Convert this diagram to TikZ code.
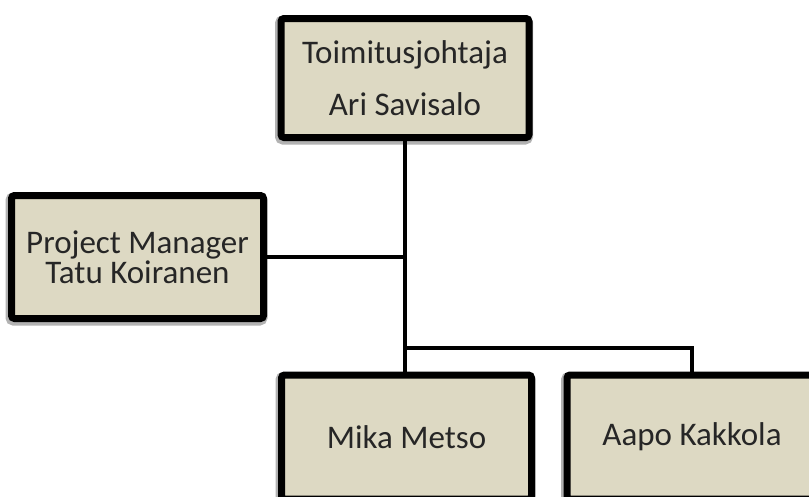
\documentclass[tikz,border=0pt]{standalone}
\usepackage{fontspec}
\setmainfont{Carlito}
\usepackage{tikz}
\usetikzlibrary{positioning,shadows}
\definecolor{boxtan}{HTML}{DDD9C3}
\tikzset{
  orgbox/.style={draw=black,fill=boxtan,line width=7pt,rounded corners=3pt,
    minimum width=250pt,minimum height=120pt,align=center,text=black!85,
    font=\fontsize{33}{30}\selectfont,
    general shadow={draw=black!30,fill=black!30,line width=10pt,shadow xshift=-1pt,shadow yshift=-2pt}},
  link/.style={line width=4.5pt,line join=miter},
}

\begin{document}
\begin{tikzpicture}[x=1pt,y=-1pt]
\useasboundingbox (0,0) rectangle (809,496);
\clip (0,0) rectangle (809,496);
% boxes
\node[orgbox,minimum width=248pt,minimum height=119pt] (ceo) at (405,78) {Toimitusjohtaja\\[22pt]Ari Savisalo};
\node[orgbox,minimum width=252pt,minimum height=123pt] (pm) at (137.5,257) {Project Manager\\Tatu Koiranen};
\node[orgbox,minimum height=124pt] (mika) at (406.5,437) {Mika Metso};
\node[orgbox,minimum height=124pt] (aapo) at (692,437) {Aapo Kakkola};
% connectors
\coordinate (split) at (ceo.south |- 0,348);
\draw[link] (ceo.south) -- (split);
\draw[link] (pm.east) -- (pm.east -| ceo.south);
\draw[link] (split) -- (split |- mika.north);
\draw[link] (split) -| (aapo.north);
\end{tikzpicture}
\end{document}
